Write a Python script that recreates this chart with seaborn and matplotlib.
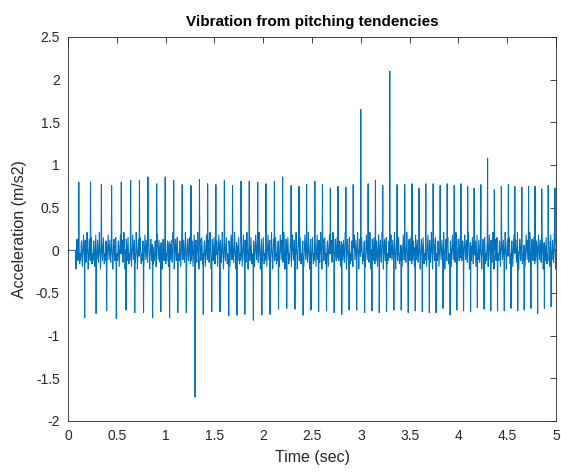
"""
Vibration from pitching tendencies - accelerometer trace, 0-5 s.
Spike times/heights read off the reference; the ripple between spikes
is a short measured pattern repeated along the trace.
"""

import matplotlib
matplotlib.use("Agg")
import matplotlib.pyplot as plt
import numpy as np
import pandas as pd
import seaborn as sns

# positive impulses (sec, m/s2)
pos_t = [0.111, 0.231, 0.341, 0.446, 0.546, 0.641, 0.733, 0.818, 0.908, 0.997,
         1.082, 1.171, 1.259, 1.346, 1.431, 1.516, 1.602, 1.687, 1.772, 1.858,
         1.944, 2.029, 2.115, 2.200, 2.285, 2.367, 2.446, 2.528, 2.607, 2.689,
         2.767, 2.846, 2.921, 3.000, 3.075, 3.151, 3.226, 3.297, 3.372, 3.451,
         3.526, 3.598, 3.667, 3.742, 3.813, 3.885, 3.957, 4.026, 4.094, 4.162,
         4.231, 4.300, 4.367, 4.439, 4.511, 4.579, 4.651, 4.720, 4.785, 4.853,
         4.921, 4.990]
pos_a = [0.80, 0.80, 0.77, 0.76, 0.80, 0.82, 0.82, 0.86, 0.78, 0.86,
         0.82, 0.77, 0.76, 0.83, 0.78, 0.77, 0.82, 0.76, 0.81, 0.81,
         0.80, 0.78, 0.81, 0.86, 0.76, 0.75, 0.77, 0.81, 0.77, 0.73,
         0.75, 0.74, 0.77, 1.65, 0.78, 0.82, 0.76, 2.10, 0.77, 0.77,
         0.78, 0.73, 0.78, 0.78, 0.76, 0.78, 0.76, 0.78, 0.75, 0.73,
         0.77, 1.08, 0.71, 0.75, 0.77, 0.75, 0.74, 0.75, 0.75, 0.72,
         0.76, 0.73]

# negative impulses
neg_t = [0.172, 0.289, 0.395, 0.494, 0.593, 0.685, 0.774, 0.867, 0.952, 1.041,
         1.126, 1.212, 1.301, 1.387, 1.472, 1.557, 1.646, 1.731, 1.813, 1.899,
         1.985, 2.070, 2.156, 2.241, 2.326, 2.408, 2.490, 2.569, 2.648, 2.726,
         2.805, 2.880, 2.959, 3.038, 3.113, 3.188, 3.264, 3.338, 3.413, 3.485,
         3.557, 3.629, 3.701, 3.772, 3.844, 3.916, 3.985, 4.053, 4.125, 4.193,
         4.262, 4.333, 4.402, 4.470, 4.538, 4.607, 4.675, 4.744, 4.812, 4.880,
         4.949]
neg_a = [-0.79, -0.74, -0.71, -0.80, -0.70, -0.73, -0.73, -0.79, -0.72, -0.79,
         -0.73, -0.73, -1.72, -0.75, -0.72, -0.72, -0.77, -0.76, -0.75, -0.82,
         -0.76, -0.75, -0.69, -0.68, -0.69, -0.76, -0.70, -0.72, -0.71, -0.73,
         -0.75, -0.70, -0.70, -0.73, -0.71, -0.73, -0.72, -0.70, -0.70, -0.73,
         -0.71, -0.72, -0.73, -0.73, -0.68, -0.76, -0.70, -0.71, -0.72, -0.67,
         -0.69, -0.71, -0.71, -0.71, -0.68, -0.71, -0.70, -0.68, -0.74, -0.68,
         -0.66]

# ringing between impulses (one measured stretch)
ripple = [-0.06, -0.12, -0.05, 0.06, 0.11, 0.04, -0.08, -0.19, -0.09, 0.03,
          0.10, 0.18, 0.07, -0.04, -0.11, -0.03, 0.08, 0.12, 0.02, -0.10,
          -0.14, -0.06, 0.05, 0.21, 0.09, -0.02, -0.08, -0.22, -0.11, 0.01,
          0.09, 0.13, 0.05, -0.07, -0.12, -0.02, 0.07, 0.15, 0.04, -0.09,
          -0.16, -0.04]
quiet_until = 0.08   # flat before the first hit

x_ticks = [0, 0.5, 1, 1.5, 2, 2.5, 3, 3.5, 4, 4.5, 5]
x_labels = ["0", "0.5", "1", "1.5", "2", "2.5", "3", "3.5", "4", "4.5", "5"]
y_ticks = [-2, -1.5, -1, -0.5, 0, 0.5, 1, 1.5, 2, 2.5]
y_labels = ["-2", "-1.5", "-1", "-0.5", "0", "0.5", "1", "1.5", "2", "2.5"]

DT = 0.003
t = np.arange(0, 5 + DT / 2, DT)
acc = np.resize(np.array(ripple), t.size)
acc[t < quiet_until] = 0.0
for tt, aa in zip(pos_t + neg_t, pos_a + neg_a):
    acc[int(round(tt / DT))] = aa

df = pd.DataFrame({"Time (sec)": t, "Acceleration (m/s2)": acc})

sns.set_theme(style="white")
plt.rcParams["font.family"] = ["Liberation Sans", "DejaVu Sans"]
INK = "#262626"

fig = plt.figure(figsize=(5.61, 4.73), dpi=100)
ax = fig.add_axes([0.1212, 0.110, 0.8699, 0.8118])
sns.lineplot(data=df, x="Time (sec)", y="Acceleration (m/s2)", ax=ax,
             color="#0072BD", lw=0.75, estimator=None, sort=False)

ax.set_xlim(0, 5)
ax.set_ylim(-2, 2.5)
ax.set_xticks(x_ticks, x_labels)
ax.set_yticks(y_ticks, y_labels)
ax.tick_params(direction="in", top=True, right=True, length=4, width=0.6,
               colors=INK, labelsize=10, pad=6)
for s in ax.spines.values():
    s.set_linewidth(0.6)
    s.set_color(INK)
ax.set_xlabel("Time (sec)", fontsize=11.5, color=INK, labelpad=5)
ax.set_ylabel("Acceleration (m/s2)", fontsize=11.5, color=INK, labelpad=6)
ax.set_title("Vibration from pitching tendencies", fontsize=11,
             fontweight="bold", color="black", pad=8)

fig.savefig("out.png", dpi=100)
